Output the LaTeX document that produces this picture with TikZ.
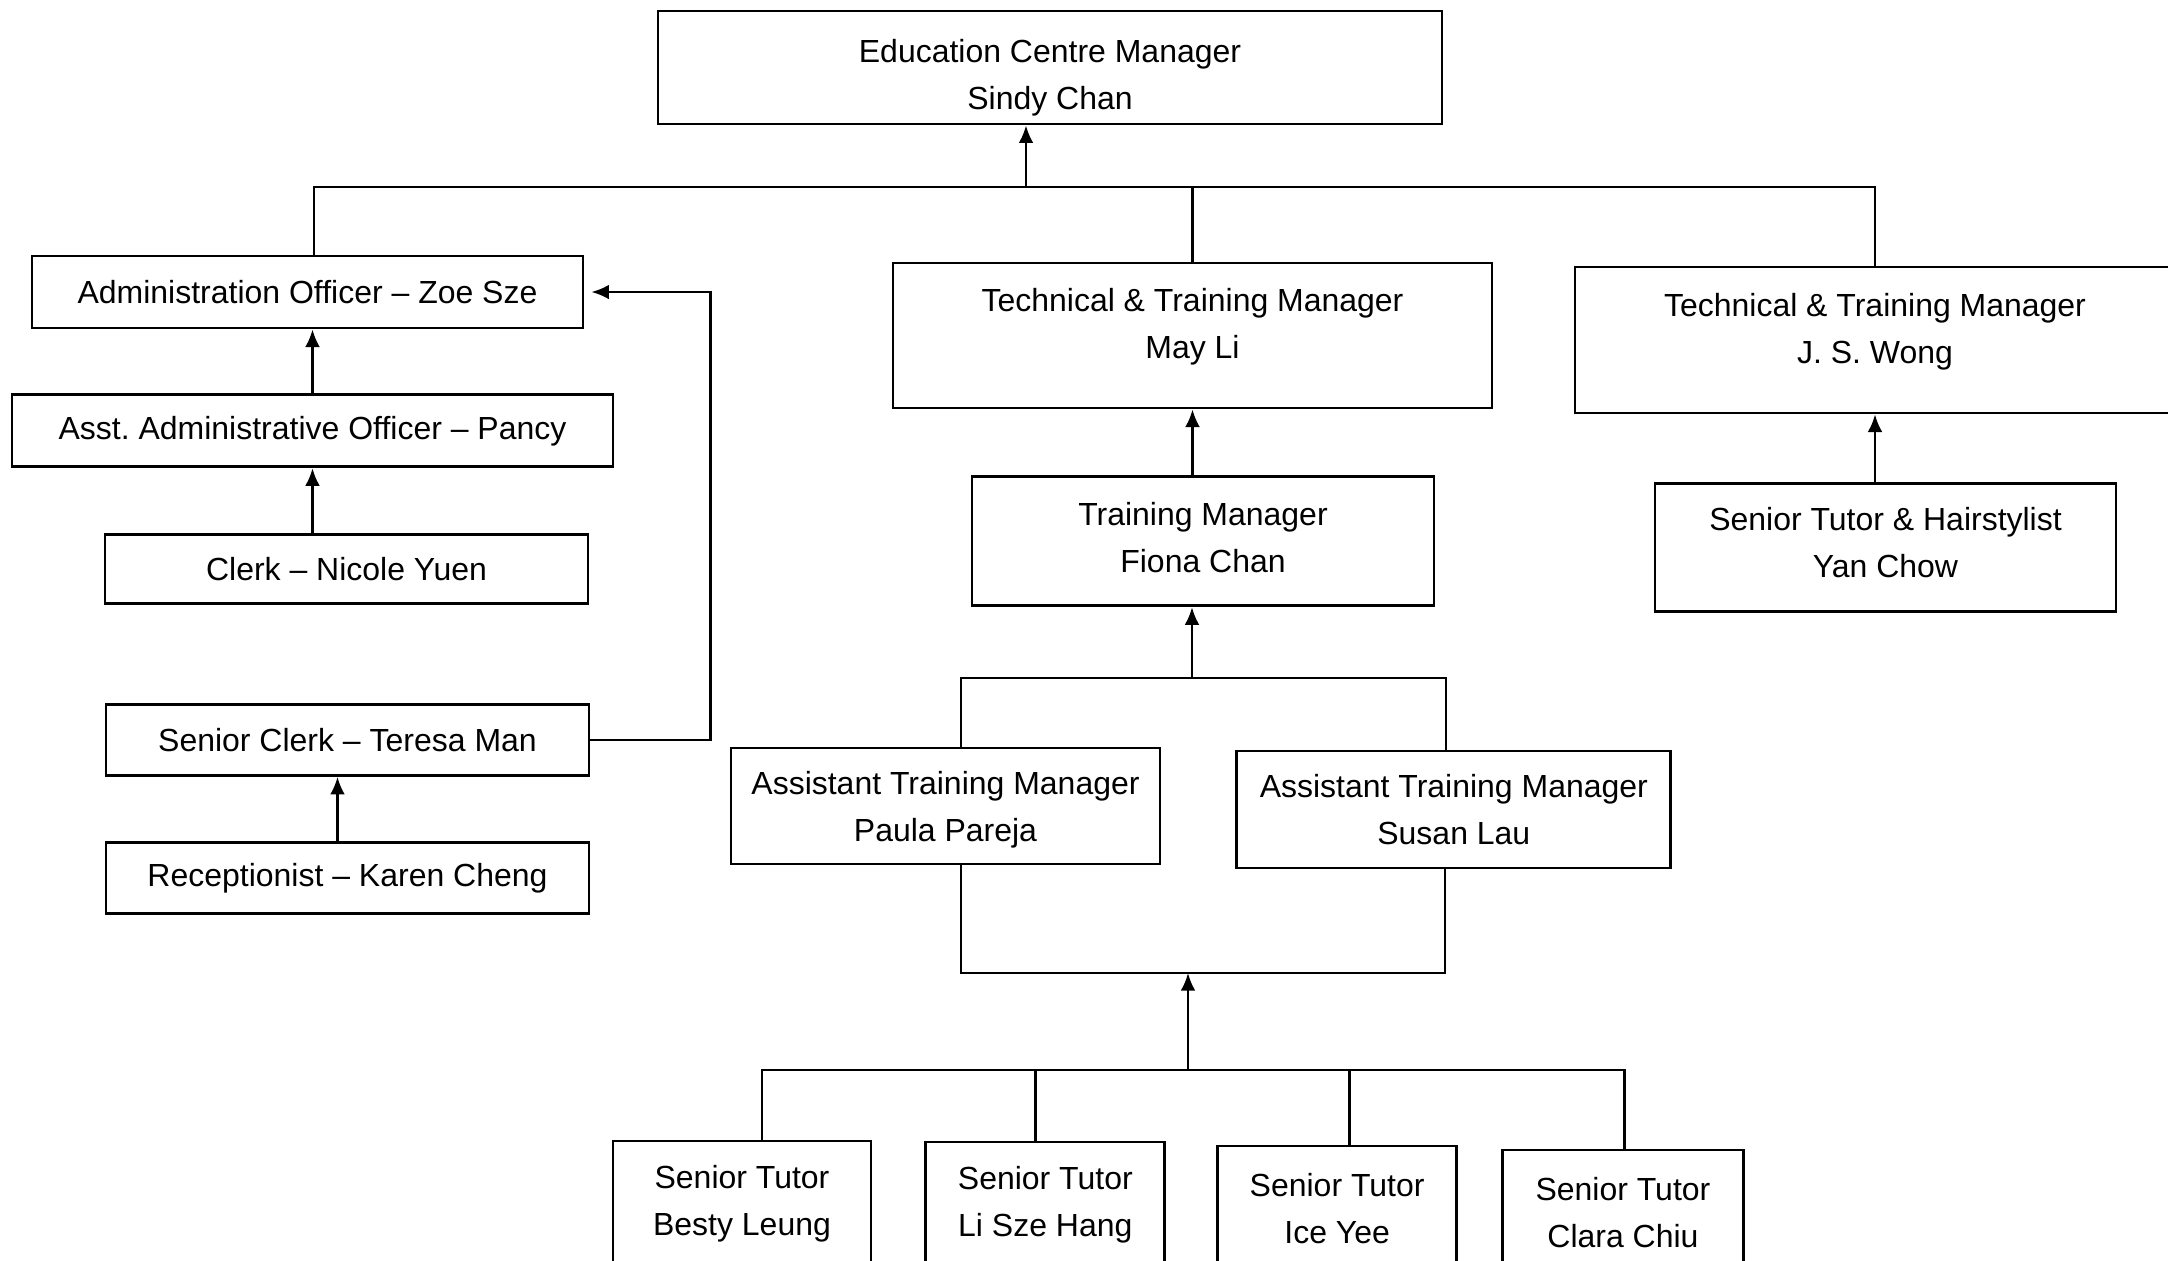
\documentclass[tikz,border=0pt]{standalone}
\usepackage{fontspec}
\setmainfont{Liberation Sans}
\usepackage{tikz}
\usetikzlibrary{arrows.meta, positioning, calc}

\begin{document}
\begin{tikzpicture}[node distance=0.7cm, auto,
    post/.style={rectangle, draw=black, line width=0.8pt, inner sep=0pt, align=center, font=\fontsize{9.1}{13.4}\selectfont},
    link/.style={draw, line width=0.7pt},
    line/.style={draw, -{Latex[length=5pt,width=4.2pt]}, line width=0.7pt}]
    \useasboundingbox (0,0) rectangle (21.68,-12.6);

    \node [post, minimum width=7.84cm, minimum height=1.13cm, text height=24pt, text depth=-1pt] (ecm) at (10.50,-0.675) {Education Centre Manager \\ Sindy Chan};

    % administration side
    \node [post, minimum width=5.51cm, minimum height=0.72cm] (admin) at (3.075,-2.92) {Administration Officer -- Zoe Sze};
    \node [post, minimum width=6.01cm, minimum height=0.72cm, below=0.64cm of admin, xshift=0.05cm] (pancy) {Asst.\ Administrative Officer -- Pancy};
    \node [post, minimum width=4.83cm, minimum height=0.69cm, below=0.65cm of pancy, xshift=0.34cm] (clerk) {Clerk -- Nicole Yuen};
    \node [post, minimum width=4.83cm, minimum height=0.71cm, below=0.98cm of clerk, xshift=0.01cm] (sclerk) {Senior Clerk -- Teresa Man};
    \node [post, minimum width=4.83cm, minimum height=0.71cm, below=0.64cm of sclerk] (recep) {Receptionist -- Karen Cheng};

    % technical & training side
    \node [post, minimum width=5.99cm, minimum height=1.45cm, text depth=7pt] (tech1) at (11.925,-3.355) {Technical \& Training Manager \\ May Li};
    \node [post, minimum width=6.00cm, minimum height=1.46cm, text depth=6.4pt] (tech2) at (18.75,-3.40) {Technical \& Training Manager \\ J. S. Wong};
    \node [post, minimum width=4.62cm, minimum height=1.29cm, text depth=2.3pt, below=0.66cm of tech1, xshift=0.105cm] (fiona) {Training Manager \\ Fiona Chan};
    \node [post, minimum width=4.61cm, minimum height=1.28cm, text depth=3.1pt, below=0.68cm of tech2, xshift=0.105cm] (yan) {Senior Tutor \& Hairstylist \\ Yan Chow};
    \node [post, minimum width=4.29cm, minimum height=1.16cm, text depth=-0.9pt] (paula) at (9.455,-8.06) {Assistant Training Manager \\ Paula Pareja};
    \node [post, minimum width=4.34cm, minimum height=1.17cm, right=0.74cm of paula, yshift=-0.035cm] (susan) {Assistant Training Manager \\ Susan Lau};

    % senior tutors
    \node [post, minimum width=2.58cm, minimum height=1.25cm] (besty) at (7.42,-12.035) {Senior Tutor \\ Besty Leung};
    \node [post, minimum width=2.39cm, minimum height=1.25cm, right=0.52cm of besty, yshift=-0.01cm] (lisze) {Senior Tutor \\ Li Sze Hang};
    \node [post, minimum width=2.39cm, minimum height=1.25cm, right=0.50cm of lisze, yshift=-0.04cm] (ice) {Senior Tutor \\ Ice Yee};
    \node [post, minimum width=2.41cm, minimum height=1.25cm, right=0.43cm of ice, yshift=-0.04cm] (clara) {Senior Tutor \\ Clara Chiu};

    \coordinate (bus) at (10.26,-1.87);
    \coordinate (ubr) at (11.92,-6.78);
    \coordinate (lbr) at (11.88,-9.73);
    \coordinate (tbus) at (11.88,-10.70);

    \path [link] ([xshift=0.065cm]admin.north) |- (bus) -| (tech2.north);
    \path [link] (bus -| tech1.north) -- (tech1.north);
    \path [line] (bus) -- (bus |- ecm.south);

    \path [line] (pancy.north) -- (pancy.north |- admin.south);
    \path [line] (clerk.north -| pancy.north) -- (pancy.south);
    \path [line] ([xshift=-0.1cm]recep.north) -- ([xshift=-0.1cm]sclerk.south);
    \path [line] (sclerk.east) -- ++(1.2,0) |- ([xshift=0.07cm]admin.east);

    \path [line] (fiona.north -| tech1.south) -- (tech1.south);
    \path [line] (yan.north -| tech2.south) -- (tech2.south);

    \path [link] ([xshift=0.155cm]paula.north) |- (ubr) -| ([xshift=-0.08cm]susan.north);
    \path [line] (ubr) -- (ubr |- fiona.south);
    \path [link] ([xshift=0.155cm]paula.south) |- (lbr) -| ([xshift=-0.09cm]susan.south);
    \path [line] (tbus) -- (lbr);

    \path [link] ([xshift=0.2cm]besty.north) |- (tbus) -| ([xshift=0.015cm]clara.north);
    \path [link] ([xshift=-0.1cm]lisze.north) |- (tbus);
    \path [link] ([xshift=0.125cm]ice.north) |- (tbus);
\end{tikzpicture}
\end{document}
